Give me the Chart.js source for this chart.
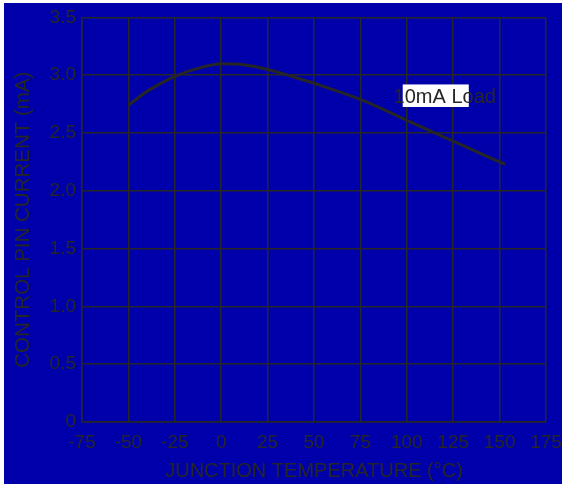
<!DOCTYPE html>
<html>
<head>
<meta charset="utf-8">
<script src="https://cdn.jsdelivr.net/npm/chart.js@4"></script>
<style>
  html, body { margin: 0; padding: 0; background: #fff; }
  #wrap { width: 566px; height: 487px; }
</style>
</head>
<body>
<div id="wrap"><canvas id="myCanvas" width="566" height="487"></canvas></div>
<script>
// junction temperature (°C) vs control pin current (mA), 10mA load
let temps = [-50, -40, -25, -10, 0, 10, 25, 40, 50, 75, 100, 125, 150, 153]
let current = [2.74, 2.86, 2.99, 3.07, 3.1, 3.095, 3.05, 2.98, 2.93, 2.79, 2.61, 2.43, 2.25, 2.23]
let xTicks = [-75, -50, -25, 0, 25, 50, 75, 100, 125, 150, 175]
let yTicks = [0, 0.5, 1.0, 1.5, 2.0, 2.5, 3.0, 3.5]
let seriesLabel = "10mA Load"

let ink = "#262626"
let blue = "#0000aa"

let background = {
    id: "background",
    beforeDraw(chart) {
        let ctx = chart.ctx
        ctx.save()
        ctx.fillStyle = "#ffffff"
        ctx.fillRect(0, 0, chart.width, chart.height)
        ctx.fillStyle = blue
        ctx.fillRect(4, 3, 558, 481)
        ctx.restore()
    }
}

// curve label with the white box sitting behind part of it
let curveLabel = {
    id: "curveLabel",
    afterDatasetsDraw(chart) {
        let ctx = chart.ctx
        let x = chart.scales.x
        let y = chart.scales.y
        ctx.save()
        ctx.fillStyle = "#ffffff"
        let bx = x.getPixelForValue(97.8)
        let by = y.getPixelForValue(2.92)
        ctx.fillRect(bx, by, x.getPixelForValue(133.4) - bx, y.getPixelForValue(2.725) - by)
        ctx.fillStyle = ink
        ctx.font = "20px 'Liberation Sans', Arial, sans-serif"
        ctx.textBaseline = "alphabetic"
        ctx.fillText(seriesLabel, x.getPixelForValue(92.9), y.getPixelForValue(2.76))
        ctx.restore()
    }
}

new Chart("myCanvas", {
    type: "line",
    data: {
        datasets: [
            {
                label: seriesLabel,
                data: temps.map((t, i) => ({ x: t, y: current[i] })),
                borderColor: ink,
                borderWidth: 3,
                pointRadius: 0,
                cubicInterpolationMode: "monotone",
                fill: false,
            },
        ]
    },
    options: {
        responsive: false,
        animation: false,
        layout: { padding: { left: 4, top: 15, right: 4, bottom: 3 } },
        plugins: {
            legend: { display: false },
            tooltip: { enabled: false }
        },
        scales: {
            x: {
                type: "linear",
                min: -75,
                max: 175,
                afterBuildTicks(axis) { axis.ticks = xTicks.map(v => ({ value: v })) },
                afterFit(axis) { axis.height = 62; axis.paddingRight = 20 },
                grid: { color: ink, lineWidth: 1.5, drawTicks: false },
                border: { color: ink, width: 1.5 },
                ticks: {
                    color: ink,
                    padding: 9,
                    maxRotation: 0,
                    font: { family: "'Liberation Sans', Arial, sans-serif", size: 19 }
                },
                title: {
                    display: true,
                    text: "JUNCTION TEMPERATURE (°C)",
                    color: ink,
                    padding: { top: 1, bottom: 1 },
                    font: { family: "'Liberation Sans', Arial, sans-serif", size: 20 }
                }
            },
            y: {
                type: "linear",
                min: 0,
                max: 3.5,
                afterBuildTicks(axis) { axis.ticks = yTicks.map(v => ({ value: v })) },
                afterFit(axis) { axis.width = 78 },
                grid: { color: ink, lineWidth: 1.5, drawTicks: false },
                border: { color: ink, width: 1.5 },
                ticks: {
                    color: ink,
                    padding: 6,
                    callback: v => v === 0 ? "0" : v.toFixed(1),
                    font: { family: "'Liberation Sans', Arial, sans-serif", size: 19 }
                },
                title: {
                    display: true,
                    text: "CONTROL PIN CURRENT (mA)",
                    color: ink,
                    padding: { top: 7, bottom: 0 },
                    font: { family: "'Liberation Sans', Arial, sans-serif", size: 20.5 }
                }
            }
        }
    },
    plugins: [background, curveLabel]
})
</script>
</body>
</html>
